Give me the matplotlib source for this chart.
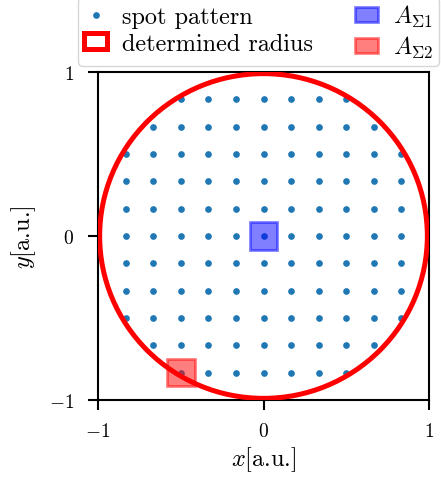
import numpy as np
import matplotlib
matplotlib.use("Agg")
import matplotlib.pyplot as plt
from matplotlib.patches import Circle, Rectangle

plt.rcParams['font.family'] = 'serif'
plt.rcParams['font.serif'] = ['cmr10']
plt.rcParams['mathtext.fontset'] = 'cm'
plt.rcParams['axes.formatter.use_mathtext'] = True

# data
grid_steps = np.arange(-5, 6)          # grid indices
grid_pitch = 1 / 6                     # spacing in a.u.
radius = 0.99                          # determined radius
sigma1_center = (0.0, 0.0)
sigma2_center = (-0.5, -5 / 6)
sigma_size = 1 / 6
xticks = [-1, 0, 1]
yticks = [-1, 0, 1]

gx, gy = np.meshgrid(grid_steps * grid_pitch, grid_steps * grid_pitch)
mask = np.hypot(gx, gy) < 1.0
sx, sy = gx[mask], gy[mask]

fig = plt.figure(figsize=(4.41, 4.85), dpi=100)
ax = fig.add_axes([98 / 441, 1 - 401 / 485, 331 / 441, 328 / 485])

ax.plot(sx, sy, 'o', color='tab:blue', ms=3.8, lw=0, label='spot pattern', zorder=2)
circ = Circle((0, 0), radius, fill=False, edgecolor='red', lw=3.6, zorder=3,
              label='determined radius')
ax.add_patch(circ)
r1 = Rectangle((sigma1_center[0] - sigma_size / 2, sigma1_center[1] - sigma_size / 2),
               sigma_size, sigma_size, facecolor='blue', edgecolor='blue', alpha=0.5,
               lw=2, zorder=4, label=r'$A_{\Sigma1}$')
r2 = Rectangle((sigma2_center[0] - sigma_size / 2, sigma2_center[1] - sigma_size / 2),
               sigma_size, sigma_size, facecolor='red', edgecolor='red', alpha=0.5,
               lw=2, zorder=4, label=r'$A_{\Sigma2}$')
ax.add_patch(r1)
ax.add_patch(r2)

ax.set_xlim(-1, 1)
ax.set_ylim(-1, 1)
ax.set_xticks(xticks)
ax.set_yticks(yticks)
ax.tick_params(labelsize=14, width=1.5, length=7)
ax.tick_params(axis='x', pad=9)
ax.tick_params(axis='y', pad=10)
for s in ax.spines.values():
    s.set_linewidth(1.5)
ax.set_xlabel(r'$x$[a.u.]', fontsize=17.5, labelpad=3)
ax.set_ylabel(r'$y$[a.u.]', fontsize=17.5, labelpad=8)

h, l = ax.get_legend_handles_labels()
fig.legend(h, l, ncol=2, loc='lower left', bbox_to_anchor=(78 / 441, 1 - 67 / 485),
           borderaxespad=0, fontsize=17.5, handlelength=0.95, handleheight=0.6,
           handletextpad=0.6, columnspacing=1.75, labelspacing=0.2, borderpad=0.25)

fig.savefig('out.png', dpi=100)
